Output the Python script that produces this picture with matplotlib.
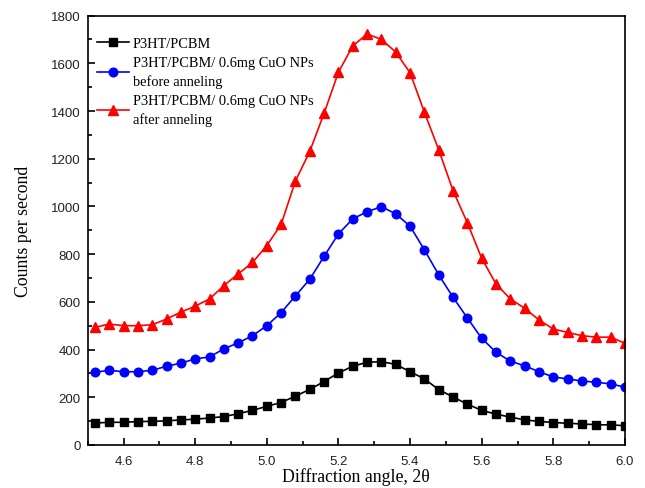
import numpy as np
import matplotlib
matplotlib.use('Agg')
import matplotlib.pyplot as plt
from matplotlib.ticker import MultipleLocator

# --- Dados: ângulo de difração (2θ) e contagens por segundo ---
angle = [4.52, 4.56, 4.60, 4.64, 4.68, 4.72, 4.76, 4.80, 4.84, 4.88,
         4.92, 4.96, 5.00, 5.04, 5.08, 5.12, 5.16, 5.20, 5.24, 5.28,
         5.32, 5.36, 5.40, 5.44, 5.48, 5.52, 5.56, 5.60, 5.64, 5.68,
         5.72, 5.76, 5.80, 5.84, 5.88, 5.92, 5.96, 6.00]

p3ht_pcbm = [92, 95, 95, 98, 99, 101, 105, 108, 113, 119,
             131, 145, 162, 178, 205, 233, 266, 302, 330, 347,
             349, 338, 307, 277, 232, 201, 171, 145, 129, 117,
             105, 99, 94, 91, 88, 85, 84, 81]

cuo_before = [305, 313, 307, 307, 313, 330, 343, 361, 369, 403,
              428, 458, 500, 555, 625, 695, 791, 885, 948, 978,
              999, 969, 917, 818, 713, 619, 532, 447, 389, 351,
              332, 307, 285, 277, 268, 263, 256, 242]

cuo_after = [493, 507, 500, 500, 504, 528, 557, 582, 612, 668,
             717, 765, 836, 925, 1107, 1231, 1391, 1563, 1673, 1723,
             1700, 1647, 1560, 1395, 1237, 1066, 931, 782, 675, 612,
             573, 524, 486, 472, 458, 452, 452, 426]

labels = ['P3HT/PCBM',
          'P3HT/PCBM/ 0.6mg CuO NPs\nbefore anneling',
          'P3HT/PCBM/ 0.6mg CuO NPs\nafter anneling']

serif = ['Liberation Serif', 'DejaVu Serif']
sans = ['Liberation Sans', 'DejaVu Sans']

fig = plt.figure(figsize=(6.45, 4.89), dpi=100)
ax = fig.add_axes([0.136, 0.088, 0.833, 0.878])

ax.plot(angle, p3ht_pcbm, color='black', marker='s', markersize=5.2, lw=1.2, label=labels[0])
ax.plot(angle, cuo_before, color='#0000ff', marker='o', markersize=6.2, lw=1.2, label=labels[1])
ax.plot(angle, cuo_after, color='#ff0000', marker='^', markersize=6.8, lw=1.2, label=labels[2])

ax.set_xlim(4.5, 6.0)
ax.set_ylim(0, 1800)
ax.xaxis.set_major_locator(MultipleLocator(0.2))
ax.xaxis.set_minor_locator(MultipleLocator(0.1))
ax.yaxis.set_major_locator(MultipleLocator(200))
ax.yaxis.set_minor_locator(MultipleLocator(100))
ax.xaxis.set_major_formatter(matplotlib.ticker.FormatStrFormatter('%.1f'))

ax.tick_params(which='both', direction='in', top=False, right=False, width=1.2)
ax.tick_params(which='major', length=5)
ax.tick_params(which='minor', length=3)
ax.tick_params(axis='x', pad=7)
ax.tick_params(axis='y', pad=5)
for lbl in ax.get_xticklabels() + ax.get_yticklabels():
    lbl.set_family(sans)
    lbl.set_fontsize(9.5)
    lbl.set_color('#222222')
for sp in ax.spines.values():
    sp.set_linewidth(1.2)

ax.set_xlabel('Diffraction angle, 2θ', family=serif, fontsize=12.8, labelpad=0)
ax.set_ylabel('Counts per second', family=serif, fontsize=12.8, labelpad=14)

# legenda sem moldura, encostada no canto superior esquerdo
leg = ax.legend(loc='upper left', bbox_to_anchor=(-0.017, 0.995), frameon=False,
                prop={'family': serif, 'size': 10.4},
                handlelength=2.2, handletextpad=0.25, borderaxespad=0.9,
                labelspacing=0.45)
for txt in leg.get_texts():
    txt.set_linespacing(1.45)

fig.savefig('out.png', dpi=100)
